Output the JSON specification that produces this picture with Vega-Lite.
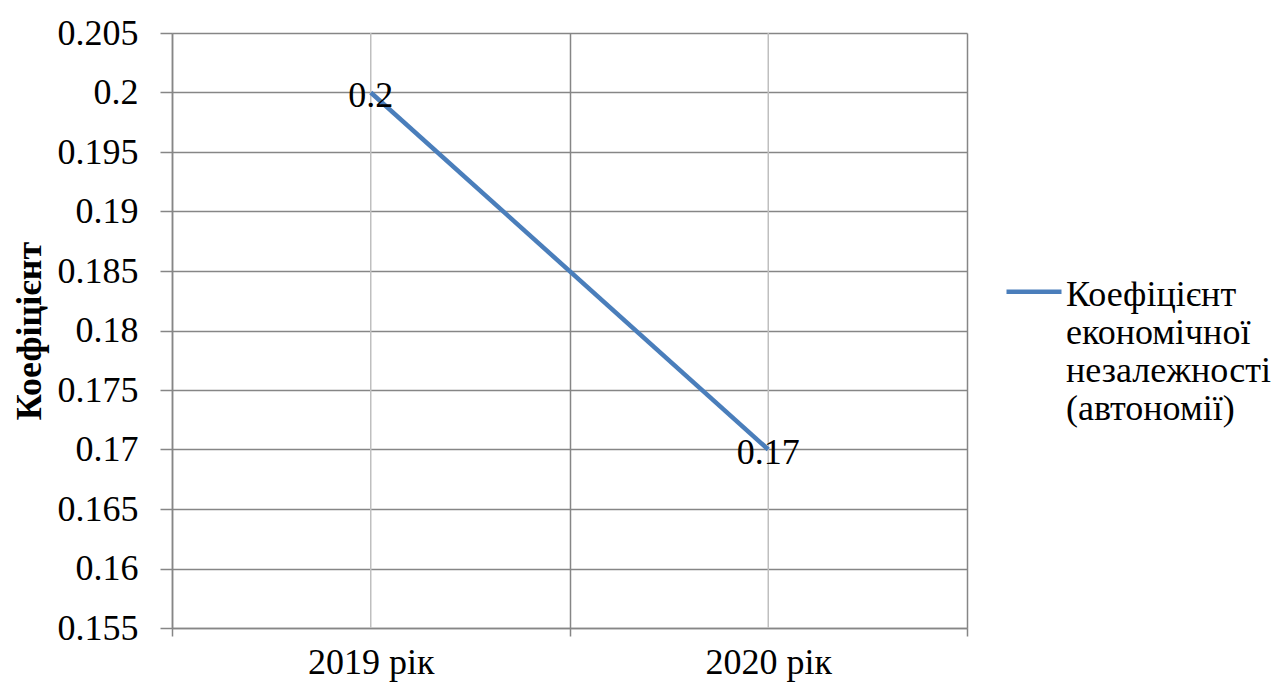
{
  "$schema": "https://vega.github.io/schema/vega-lite/v6.json",
  "width": 795,
  "height": 595,
  "autosize": "none",
  "padding": {"left": 172, "top": 33, "right": 314, "bottom": 63},
  "background": "white",
  "config": {
    "view": {"stroke": null},
    "font": "Liberation Serif"
  },
  "data": {
    "values": [
      {"year": "2019 рік", "value": 0.2, "series": "Коефіцієнт економічної незалежності (автономії)"},
      {"year": "2020 рік", "value": 0.17, "series": "Коефіцієнт економічної незалежності (автономії)"}
    ]
  },
  "encoding": {
    "x": {
      "field": "year",
      "type": "nominal",
      "sort": null,
      "scale": {"type": "band", "paddingInner": 0, "paddingOuter": 0},
      "axis": {
        "title": null,
        "tickBand": "extent",
        "grid": true,
        "gridColor": "#868686",
        "gridWidth": 1.5,
        "domainColor": "#868686",
        "domainWidth": 1.5,
        "tickColor": "#868686",
        "tickWidth": 1.5,
        "tickSize": 8,
        "labelAngle": 0,
        "labelFont": "Liberation Serif",
        "labelFontSize": 36,
        "labelColor": "black",
        "labelPadding": 9,
        "labelBaseline": "top"
      }
    },
    "y": {
      "field": "value",
      "type": "quantitative",
      "scale": {"domain": [0.155, 0.205], "nice": false, "zero": false},
      "axis": {
        "title": "Коефіцієнт",
        "titleFont": "Liberation Serif",
        "titleFontSize": 36,
        "titleFontWeight": "bold",
        "titleColor": "black",
        "titlePadding": 9,
        "values": [0.155, 0.16, 0.165, 0.17, 0.175, 0.18, 0.185, 0.19, 0.195, 0.2, 0.205],
        "format": ".3~f",
        "grid": true,
        "gridColor": "#868686",
        "gridWidth": 1.5,
        "domainColor": "#868686",
        "domainWidth": 1.5,
        "tickColor": "#868686",
        "tickWidth": 1.5,
        "tickSize": 12,
        "labelFont": "Liberation Serif",
        "labelFontSize": 36,
        "labelColor": "black",
        "labelPadding": 22
      }
    }
  },
  "layer": [
    {
      "mark": {"type": "rule", "color": "#BFBFBF", "strokeWidth": 1.5},
      "encoding": {"y": null}
    },
    {
      "mark": {"type": "line", "strokeWidth": 4.5},
      "encoding": {
        "color": {
          "field": "series",
          "type": "nominal",
          "scale": {"range": ["#4A7EBB"]},
          "legend": {
            "title": null,
            "orient": "none",
            "legendX": 832,
            "legendY": 215,
            "symbolType": "M-1,0.5L1,0.5",
            "symbolSize": 3025,
            "symbolStrokeWidth": 4.5,
            "symbolStrokeColor": "#4A7EBB",
            "symbolFillColor": "transparent",
            "labelFont": "Liberation Serif",
            "labelFontSize": 36,
            "labelColor": "black",
            "labelLimit": 0,
            "labelOffset": 2,
            "labelExpr": "split(datum.label, ' ')",
            "labelBaseline": "top"
          }
        }
      }
    },
    {
      "mark": {"type": "text", "font": "Liberation Serif", "fontSize": 36, "color": "black", "baseline": "middle", "align": "center", "dy": 3},
      "encoding": {"text": {"field": "value", "type": "quantitative", "format": "~g"}}
    }
  ]
}
